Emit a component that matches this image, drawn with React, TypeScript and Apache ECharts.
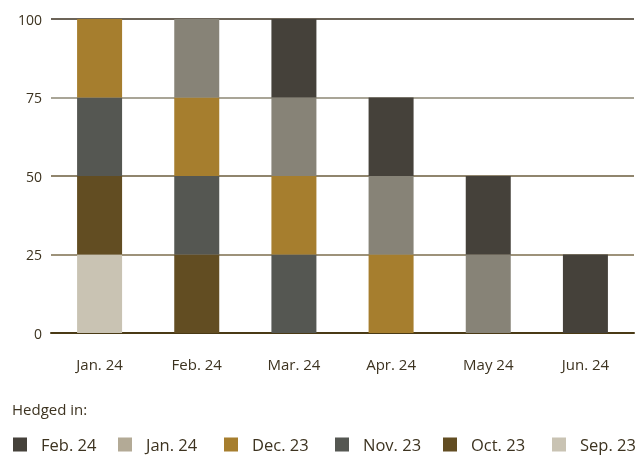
import React, { useEffect, useRef } from "react";
import * as echarts from "echarts";

const categories = ["Jan. 24", "Feb. 24", "Mar. 24", "Apr. 24", "May 24", "Jun. 24"];
const sep23 = [25, null, null, null, null, null];
const oct23 = [25, 25, null, null, null, null];
const nov23 = [25, 25, 25, null, null, null];
const dec23 = [25, 25, 25, 25, null, null];
const jan24 = [null, 25, 25, 25, 25, null];
const feb24 = [null, null, 25, 25, 25, 25];
const yTicks = [0, 25, 50, 75, 100];

const seriesDefs = [
  { name: "Sep. 23", data: sep23, color: "#c9c3b3", legendColor: "#c9c3b3" },
  { name: "Oct. 23", data: oct23, color: "#624d22", legendColor: "#624d22" },
  { name: "Nov. 23", data: nov23, color: "#555752", legendColor: "#555752" },
  { name: "Dec. 23", data: dec23, color: "#a67e2e", legendColor: "#a67e2e" },
  { name: "Jan. 24", data: jan24, color: "#878377", legendColor: "#b3aa96" },
  { name: "Feb. 24", data: feb24, color: "#45413a", legendColor: "#45413a" },
];

const legendOrder = ["Feb. 24", "Jan. 24", "Dec. 23", "Nov. 23", "Oct. 23", "Sep. 23"];
const legendLeft = [13, 118, 224, 335, 443, 552];

const FONT = "'Open Sans', sans-serif";
const TEXT = "#3d3320";
// square of 14 with empty space to its right, so the label sits further away
const ICON = "path://M0 0H14V14H0Z M23 7L23 7.01";

export default function App() {
  const ref = useRef<HTMLDivElement>(null);
  useEffect(() => {
    if (!ref.current) return;
    const chart = echarts.init(ref.current, undefined, { renderer: "svg" });
    const legends = legendOrder.map((name, i) => {
      const def = seriesDefs.find((s) => s.name === name)!;
      return {
        left: legendLeft[i],
        top: 436,
        padding: 0,
        itemWidth: 23,
        itemHeight: 14,
        icon: ICON,
        selectedMode: false,
        data: [{ name, itemStyle: { color: def.legendColor } }],
        textStyle: { color: TEXT, fontSize: 16.5, fontFamily: FONT },
      };
    });
    chart.setOption({
      animation: false,
      grid: { left: 51, right: 7, top: 19, bottom: 122 },
      graphic: [
        {
          type: "text",
          left: 12,
          top: 401,
          style: { text: "Hedged in:", fill: TEXT, fontSize: 15, fontFamily: FONT },
        },
      ],
      legend: legends,
      xAxis: {
        type: "category",
        data: categories,
        axisLine: { show: true, lineStyle: { color: "#4a3a15", width: 2 } },
        axisTick: { show: false },
        axisLabel: { color: TEXT, fontSize: 15, fontFamily: FONT, margin: 23 },
      },
      yAxis: {
        type: "value",
        min: yTicks[0],
        max: yTicks[yTicks.length - 1],
        interval: 25,
        axisLine: { show: false },
        axisTick: { show: false },
        axisLabel: { color: TEXT, fontSize: 14, fontFamily: FONT, margin: 9 },
        splitLine: {
          show: true,
          lineStyle: {
            color: ["#4a3a15", "#7d6e4e", "#6b5c3c", "#8c8775", "#3b3020"],
            width: 1.5,
          },
        },
      },
      series: seriesDefs.map((s) => ({
        name: s.name,
        type: "bar",
        stack: "total",
        barWidth: 45,
        data: s.data,
        itemStyle: { color: s.color },
      })),
    });
    return () => chart.dispose();
  }, []);
  return (
    <div
      ref={ref}
      style={{ position: "fixed", left: 0, top: 0, width: 641, height: 455 }}
    />
  );
}
